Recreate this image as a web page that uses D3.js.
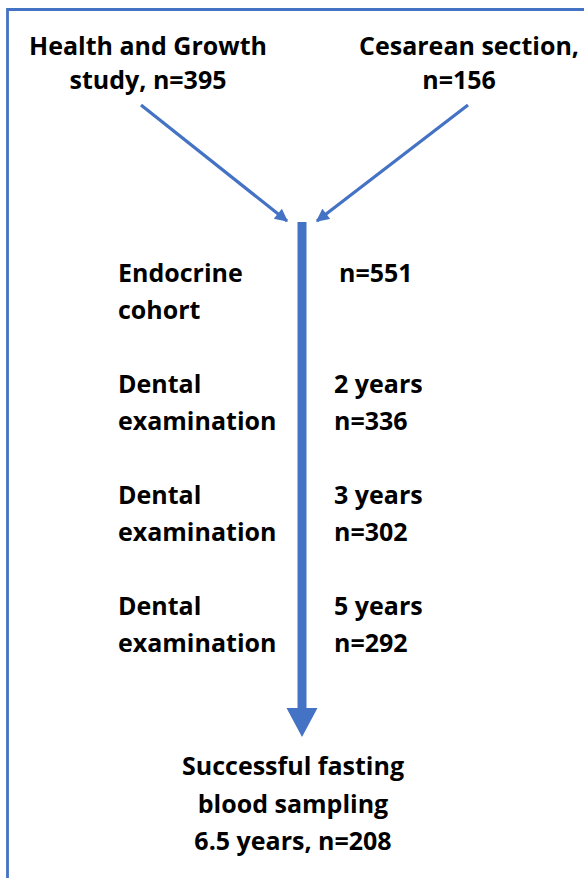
<!DOCTYPE html>
<html>
<head>
<meta charset="utf-8">
<script src="https://cdn.jsdelivr.net/npm/d3@7"></script>
<style>
  html, body { margin: 0; padding: 0; background: #fff; }
  svg { display: block; }
  text { font-family: "Open Sans", "Noto Sans", sans-serif; font-weight: 700; fill: #000; }
</style>
</head>
<body>
<script>
// ---- data ----
const sourceNames = [["Health and Growth", "study, n=395"], ["Cesarean section,", "n=156"]];
const sourceCounts = [395, 156];
const stageLabels = [["Endocrine", "cohort"], ["Dental", "examination"], ["Dental", "examination"], ["Dental", "examination"]];
const stageDetails = [["n=551"], ["2 years", "n=336"], ["3 years", "n=302"], ["5 years", "n=292"]];
const stageCounts = [551, 336, 302, 292];
const finalLines = ["Successful fasting", "blood sampling", "6.5 years, n=208"];
const finalCount = 208;

// ---- layout ----
const W = 584, H = 878;
const blue = "#4472C4";
const fontSize = 25;
const lineGap = 37;
const srcLineDx = [[0, 0], [5, -5]];

const svg = d3.select("body").append("svg").attr("width", W).attr("height", H);

// frame (left + top edges visible)
svg.append("path")
  .attr("d", d3.line()([[7.5, H + 5], [7.5, 9.5], [W + 5, 9.5]]))
  .attr("fill", "none").attr("stroke", blue).attr("stroke-width", 2.8);

// scales
const xSrc = d3.scalePoint().domain(d3.range(sourceNames.length)).range([148, 464]);
const ySrc = 55;
const yStage = d3.scalePoint().domain(d3.range(stageLabels.length)).range([282, 615]);
const xAxis = 302;
const shaftTop = 222, headBase = 708, tip = 737;

// source labels
const src = svg.append("g").selectAll("text").data(sourceNames).join("text")
  .attr("text-anchor", "middle")
  .attr("font-size", fontSize)
  .attr("transform", (d, i) => `translate(${xSrc(i)},${ySrc})`);
src.selectAll("tspan").data((d, i) => d.map((t, j) => ({t, dx: srcLineDx[i][j]}))).join("tspan")
  .attr("x", d => d.dx).attr("y", (d, j) => j * 34).text(d => d.t);

// diagonal arrows
const defs = svg.append("defs");
defs.append("marker").attr("id", "head")
  .attr("viewBox", "0 0 10 10").attr("refX", 9).attr("refY", 5)
  .attr("markerUnits", "userSpaceOnUse")
  .attr("markerWidth", 14).attr("markerHeight", 13)
  .attr("orient", "auto")
  .append("path").attr("d", "M0,0 L10,5 L0,10 Z").attr("fill", blue);

const diag = [
  [[141, 105], [287, 221]],
  [[468, 105], [317, 221]]
];
svg.append("g").selectAll("line").data(diag).join("line")
  .attr("x1", d => d[0][0]).attr("y1", d => d[0][1])
  .attr("x2", d => d[1][0]).attr("y2", d => d[1][1])
  .attr("stroke", blue).attr("stroke-width", 3.2)
  .attr("marker-end", "url(#head)");

// main arrow
const shaftHalf = 4.5, headHalf = 15.5;
svg.append("path")
  .attr("d", d3.line()([
    [xAxis - shaftHalf, shaftTop], [xAxis + shaftHalf, shaftTop],
    [xAxis + shaftHalf, headBase], [xAxis + headHalf, headBase],
    [xAxis, tip], [xAxis - headHalf, headBase],
    [xAxis - shaftHalf, headBase]
  ]) + "Z")
  .attr("fill", blue);

// stage labels
const stL = svg.append("g").selectAll("text").data(stageLabels).join("text")
  .attr("font-size", fontSize)
  .attr("transform", (d, i) => `translate(118,${yStage(i)})`);
stL.selectAll("tspan").data(d => d).join("tspan")
  .attr("x", 0).attr("y", (d, j) => j * lineGap).text(d => d);

const stD = svg.append("g").selectAll("text").data(stageDetails).join("text")
  .attr("font-size", fontSize)
  .attr("transform", (d, i) => `translate(${i === 0 ? 339 : 334},${yStage(i)})`);
stD.selectAll("tspan").data(d => d).join("tspan")
  .attr("x", 0).attr("y", (d, j) => j * lineGap).text(d => d);

// final box text
svg.append("text")
  .attr("text-anchor", "middle").attr("font-size", fontSize)
  .attr("transform", "translate(293,775)")
  .selectAll("tspan").data(finalLines).join("tspan")
  .attr("x", 0).attr("y", (d, j) => j * 37.5).text(d => d);
</script>
</body>
</html>
